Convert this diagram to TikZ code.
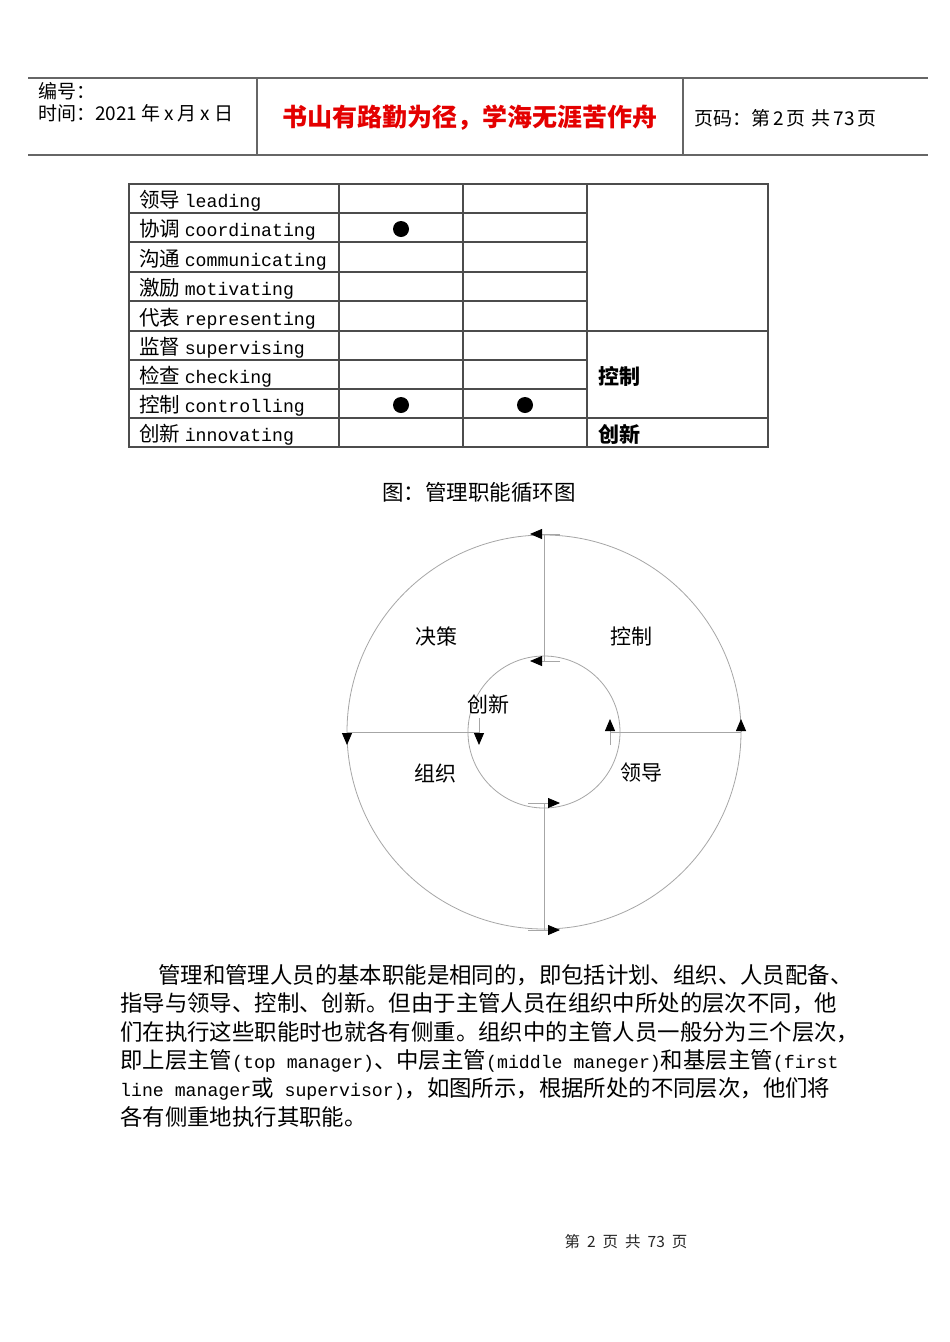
\documentclass[tikz,border=0pt]{standalone}
\usepackage{fontspec}
\setmainfont{Noto Sans CJK SC}
\newfontfamily\monofont{Liberation Mono}
\usetikzlibrary{arrows.meta, calc}
\definecolor{mottored}{RGB}{228,0,0}
\newcommand{\en}[1]{{\monofont\fontsize{18.2}{20}\selectfont #1}}
\tikzset{
  rule/.style={draw=black!60, line width=1.2pt},
  grid/.style={draw=black!70, line width=1.1pt},
  ring/.style={draw=black!35, line width=0.8pt},
  tick/.style={ring, -{Triangle[length=12pt, width=10pt, color=black]}},
  cell/.style={anchor=west, inner sep=0pt, font=\fontsize{20.5}{22}\selectfont},
  dot/.style={circle, fill=black, inner sep=0pt, minimum size=16pt},
  lab/.style={inner sep=0pt, font=\fontsize{21}{23}\selectfont},
  para/.style={anchor=west, inner sep=0pt, font=\fontsize{22.4}{24}\selectfont},
  head/.style={anchor=west, inner sep=0pt, font=\fontsize{19}{21}\selectfont}
}
\begin{document}
\begin{tikzpicture}[x=1pt, y=-1pt]
  \useasboundingbox (0,0) rectangle (950,1342);
  \fill[white] (0,0) rectangle (950,1342);
  \draw[rule] (28,78) -- (928,78);
  \draw[rule] (28,155) -- (928,155);
  \draw[rule] (257,78) -- (257,155);
  \draw[rule] (683,78) -- (683,155);
  \node[head] (num) at (38,91) {编号：};
  \node[head] (date) at (38,113) {时间：2021\hspace{4pt}年\hspace{4pt}x\hspace{4pt}月\hspace{4pt}x\hspace{4pt}日};
  \node[inner sep=0pt, text=mottored, font=\fontsize{25}{27}\selectfont\bfseries] (motto) at (470,118) {书山有路勤为径，学海无涯苦作舟};
  \node[head] (pg) at (694,118) {页码：第\hspace{3pt}2\hspace{3pt}页\hspace{6pt}共\hspace{3pt}73\hspace{3pt}页};
  \draw[grid] (129,184) rectangle (768,447);
  \draw[grid] (339,184) -- (339,447);
  \draw[grid] (463,184) -- (463,447);
  \draw[grid] (587,184) -- (587,447);
  \draw[grid] (129,213) -- (587,213);
  \draw[grid] (129,242) -- (587,242);
  \draw[grid] (129,272) -- (587,272);
  \draw[grid] (129,301) -- (587,301);
  \draw[grid] (129,331) -- (768,331);
  \draw[grid] (129,360) -- (587,360);
  \draw[grid] (129,389) -- (587,389);
  \draw[grid] (129,418) -- (768,418);
  \node[cell] (r1) at (139,201) {领导 \en{leading}};
  \node[cell] (r2) at (139,230) {协调 \en{coordinating}};
  \node[cell] (r3) at (139,260) {沟通 \en{communicating}};
  \node[cell] (r4) at (139,289) {激励 \en{motivating}};
  \node[cell] (r5) at (139,319) {代表 \en{representing}};
  \node[cell] (r6) at (139,348) {监督 \en{supervising}};
  \node[cell] (r7) at (139,377) {检查 \en{checking}};
  \node[cell] (r8) at (139,406) {控制 \en{controlling}};
  \node[cell] (r9) at (139,435) {创新 \en{innovating}};
  \node[cell, font=\fontsize{21}{23}\selectfont\bfseries] (kz) at (598,376) {控制};
  \node[cell, font=\fontsize{21}{23}\selectfont\bfseries] (cx) at (598,434) {创新};
  \node[dot] (d1) at (401,229) {};
  \node[dot] (d2) at (401,405) {};
  \node[dot] (d3) at (525,405) {};
  \node[inner sep=0pt, font=\fontsize{21.5}{23}\selectfont] (cap) at (479,492) {图：管理职能循环图};
  \coordinate (O) at (544,732);
  \coordinate (A1) at (544,534);
  \coordinate (A2) at (544,661);
  \coordinate (B1) at (347,732);
  \coordinate (B2) at (479,732);
  \coordinate (C1) at (741,732);
  \coordinate (C2) at (610,732);
  \coordinate (D1) at (544,930);
  \coordinate (D2) at (544,803);
  \draw[ring] (O) circle[radius=197pt];
  \draw[ring] (O) circle[radius=76pt];
  \draw[ring] (A1) -- (A2);
  \draw[ring] (B1) -- (B2);
  \draw[ring] (C2) -- (C1);
  \draw[ring] (D2) -- (D1);
  \draw[tick] ($(A1)+(16,0)$) -- ($(A1)+(-14,0)$);
  \draw[tick] ($(A2)+(16,0)$) -- ($(A2)+(-14,0)$);
  \draw[tick] (B1) -- ($(B1)+(0,13)$);
  \draw[tick] ($(B2)+(0,-14)$) -- ($(B2)+(0,13)$);
  \draw[tick] ($(C2)+(0,13)$) -- ($(C2)+(0,-13)$);
  \draw[tick] (C1) -- ($(C1)+(0,-13)$);
  \draw[tick] ($(D2)+(-16,0)$) -- ($(D2)+(16,0)$);
  \draw[tick] ($(D1)+(-16,0)$) -- ($(D1)+(16,0)$);
  \node[lab] (jc) at (436,636) {决策};
  \node[lab] (kzr) at (631,636) {控制};
  \node[lab] (cxr) at (488,704) {创新};
  \node[lab] (zz) at (435,773) {组织};
  \node[lab] (ld) at (641,773) {领导};
  \node[para] (p1) at (158,975) {管理和管理人员的基本职能是相同的，即包括计划、组织、人员配备、};
  \node[para] (p2) at (120,1003) {指导与领导、控制、创新。但由于主管人员在组织中所处的层次不同，他};
  \node[para] (p3) at (120,1032) {们在执行这些职能时也就各有侧重。组织中的主管人员一般分为三个层次，};
  \node[para] (p4) at (120,1061) {即上层主管\en{(top manager)}、中层主管\en{(middle maneger)}和基层主管\en{(first}};
  \node[para] (p5) at (120,1089) {\en{line manager}或\en{ supervisor)}，如图所示，根据所处的不同层次，他们将};
  \node[para] (p6) at (120,1117) {各有侧重地执行其职能。};
  \node[inner sep=0pt, text=black!85, font=\fontsize{15.5}{17}\selectfont] (foot) at (626,1242) {第\hspace{7pt}2\hspace{7pt}页\hspace{7pt}共\hspace{7pt}73\hspace{7pt}页};
\end{tikzpicture}
\end{document}
